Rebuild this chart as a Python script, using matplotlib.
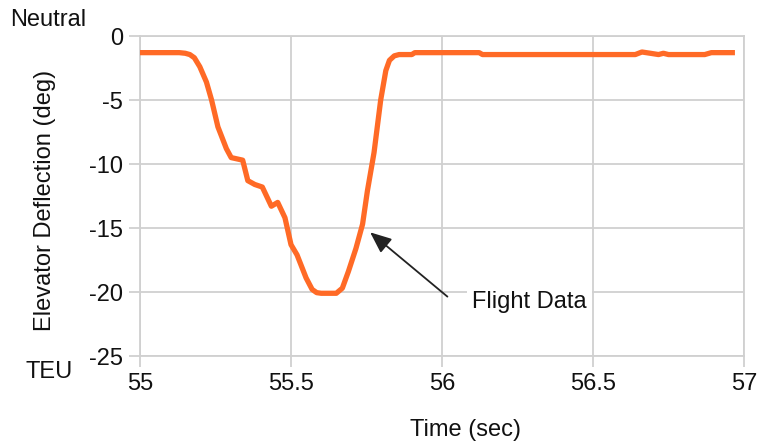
import matplotlib
matplotlib.use("Agg")
import matplotlib.pyplot as plt

plt.rcParams['font.family'] = ['Liberation Sans', 'DejaVu Sans']

# flight data
time_s = [55.0, 55.13, 55.15, 55.165, 55.18, 55.198, 55.22, 55.237, 55.258, 55.286,
          55.302, 55.34, 55.357, 55.38, 55.405, 55.435, 55.456, 55.48, 55.50, 55.52,
          55.55, 55.57, 55.585, 55.60, 55.65, 55.67, 55.69, 55.715, 55.737, 55.753,
          55.775, 55.797, 55.814, 55.826, 55.842, 55.858, 55.90, 55.91, 56.123, 56.134,
          56.64, 56.662, 56.69, 56.717, 56.733, 56.75, 56.87, 56.892, 56.97]
deflection = [-1.3, -1.3, -1.35, -1.45, -1.7, -2.4, -3.6, -5.0, -7.1, -8.8,
              -9.5, -9.7, -11.3, -11.6, -11.8, -13.3, -13.0, -14.2, -16.3, -17.1,
              -18.9, -19.8, -20.05, -20.1, -20.1, -19.7, -18.4, -16.6, -14.7, -12.1,
              -9.1, -5.0, -2.7, -1.9, -1.55, -1.45, -1.45, -1.3, -1.3, -1.45,
              -1.45, -1.25, -1.35, -1.45, -1.35, -1.45, -1.45, -1.3, -1.3]

x_ticks = [55, 55.5, 56, 56.5, 57]
x_tick_labels = ['55', '55.5', '56', '56.5', '57']
y_ticks = [0, -5, -10, -15, -20, -25]
y_tick_labels = ['0', '-5', '-10', '-15', '-20', '-25']

grid_col = '#d0d0d0'
fs = 17

fig = plt.figure(figsize=(7.57, 4.44), dpi=100)
ax = fig.add_axes([140/757, 1-356/444, (744-140)/757, (356-36)/444])

ax.plot(time_s, deflection, color='#ff6a26', lw=3.8, solid_joinstyle='round',
        solid_capstyle='butt', zorder=3)

ax.set_xlim(55, 57)
ax.set_ylim(-25, 0)
ax.set_xticks(x_ticks)
ax.set_xticklabels(x_tick_labels)
ax.set_yticks(y_ticks)
ax.set_yticklabels(y_tick_labels)
ax.grid(True, color=grid_col, lw=1.3)
ax.set_axisbelow(True)
for s in ax.spines.values():
    s.set_color(grid_col)
    s.set_linewidth(1.3)
ax.tick_params(colors=grid_col, labelcolor='#111111', labelsize=fs,
               length=8, width=1.3, pad=4)

fig.text(466/757, 1-430/444, 'Time (sec)', ha='center', va='center', fontsize=fs, color='#111111')
fig.text(45/757, 1-200/444, 'Elevator Deflection (deg)', ha='center', va='center',
         rotation=90, fontsize=fs, color='#111111')
fig.text(10/757, 1-20/444, 'Neutral', ha='left', va='center', fontsize=fs, color='#111111')
fig.text(25/757, 1-372/444, 'TEU', ha='left', va='center', fontsize=fs, color='#111111')

ax.annotate('', xy=(55.755, -15.2), xytext=(56.025, -20.5),
            arrowprops=dict(arrowstyle='-|>,head_length=1.3,head_width=0.55',
                            color='#222222', lw=1.3))
ax.text(56.1, -20.8, 'Flight Data', ha='left', va='center', fontsize=fs, color='#111111',
        bbox=dict(facecolor='white', edgecolor='none', pad=4))

fig.savefig('out.png', dpi=100)
